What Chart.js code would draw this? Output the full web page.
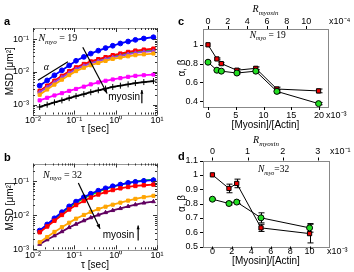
<!DOCTYPE html>
<html>
<head>
<meta charset="utf-8">
<script src="https://cdn.jsdelivr.net/npm/chart.js@4.4.1/dist/chart.umd.min.js"></script>
<style>
  body { margin: 0; background: #fff; }
  .panel { position: absolute; }
</style>
</head>
<body>
<canvas id="chartA" class="panel" width="177" height="136" style="left:0;top:0"></canvas>
<canvas id="chartB" class="panel" width="177" height="136" style="left:0;top:136px"></canvas>
<canvas id="chartC" class="panel" width="177" height="136" style="left:177px;top:0"></canvas>
<canvas id="chartD" class="panel" width="177" height="136" style="left:177px;top:136px"></canvas>
<script>
// ---------------- data ----------------
// lag times (sec) shared by panels a and b
const tau = [0.0145, 0.022, 0.033, 0.05, 0.075, 0.11, 0.17, 0.25, 0.38, 0.57, 0.85, 1.3, 2, 3, 4.8, 8.2];

// panel a, N_myo = 19  (MSD in um^2)
const blueA    = [0.0038, 0.0055, 0.0079, 0.0112, 0.0158, 0.0219, 0.0288, 0.0363, 0.0447, 0.0537, 0.0631, 0.0741, 0.0851, 0.0955, 0.105, 0.115];
const redA     = [0.00263, 0.0038, 0.00537, 0.00759, 0.0105, 0.0138, 0.0174, 0.0209, 0.0245, 0.0282, 0.0324, 0.0363, 0.0407, 0.0447, 0.0479, 0.0513];
const greenA   = [0.0025, 0.0036, 0.0051, 0.0072, 0.0099, 0.0130, 0.0163, 0.0195, 0.0228, 0.0262, 0.0300, 0.0335, 0.0372, 0.0408, 0.0437, 0.0466];
const purpleA  = [0.0024, 0.0034, 0.0048, 0.0068, 0.0093, 0.0122, 0.0153, 0.0183, 0.0213, 0.0245, 0.0280, 0.0312, 0.0347, 0.0380, 0.0408, 0.0435];
const orangeA  = [0.0020, 0.0029, 0.0041, 0.0058, 0.0080, 0.0106, 0.0134, 0.0160, 0.0188, 0.0217, 0.0250, 0.0275, 0.0300, 0.0325, 0.0345, 0.0365];
const magentaA = [0.00135, 0.00162, 0.00191, 0.00224, 0.00263, 0.00302, 0.00355, 0.00417, 0.00479, 0.00537, 0.00589, 0.00646, 0.00708, 0.00759, 0.00794, 0.00832];
const blackA   = [0.00085, 0.00100, 0.00117, 0.00135, 0.00158, 0.00182, 0.00209, 0.00240, 0.00275, 0.00309, 0.00347, 0.00380, 0.00417, 0.00457, 0.00490, 0.00525];

// panel b, N_myo = 32
const blueB    = [0.00355, 0.00537, 0.00813, 0.0123, 0.0182, 0.0251, 0.0339, 0.0427, 0.0525, 0.0617, 0.0708, 0.0794, 0.0891, 0.0955, 0.102, 0.107];
const greenB   = [0.00331, 0.00501, 0.00759, 0.0115, 0.0170, 0.0234, 0.0316, 0.0398, 0.0490, 0.0589, 0.0692, 0.0794, 0.0891, 0.0977, 0.105, 0.111];
const redB     = [0.00316, 0.00468, 0.00692, 0.0102, 0.0148, 0.0200, 0.0263, 0.0331, 0.0407, 0.0479, 0.0550, 0.0617, 0.0676, 0.0724, 0.0759, 0.0794];
const orangeB  = [0.00162, 0.00229, 0.00324, 0.00447, 0.00603, 0.00794, 0.0102, 0.0126, 0.0151, 0.0178, 0.0204, 0.0234, 0.0269, 0.0302, 0.0339, 0.0372];
const purpleB  = [0.00141, 0.00191, 0.00251, 0.00331, 0.00437, 0.00550, 0.00692, 0.00851, 0.0102, 0.0120, 0.0138, 0.0158, 0.0182, 0.0204, 0.0229, 0.0251];

// panel c  ([Myosin]/[Actin] in 1e-3)
const ratioC    = [0, 1.6, 2.4, 5.2, 8.6, 12.4, 19.9];
const alphaC    = [1.0, 0.85, 0.80, 0.73, 0.75, 0.53, 0.51];
const betaC     = [0.815, 0.73, 0.72, 0.70, 0.72, 0.505, 0.375];
const alphaErrC = [0, 0.01, 0.01, 0.015, 0.015, 0.02, 0.02];
const betaErrC  = [0, 0.01, 0.01, 0.01, 0.015, 0.02, 0.012];

// panel d
const ratioD    = [0, 1.7, 2.5, 5, 10];
const alphaD    = [1.0, 0.905, 0.94, 0.63, 0.59];
const betaD     = [0.83, 0.80, 0.81, 0.70, 0.63];
const alphaErrD = [0, 0.03, 0.03, 0.025, 0.065];
const betaErrD  = [0.005, 0.01, 0.01, 0.035, 0.03];

// tick labels
const tauTicks   = [0.01, 0.1, 1, 10];
const msdTicks   = [0.001, 0.01, 0.1];
const ratioTicksC = [0, 5, 10, 15, 20];
const rTicksC     = [0, 2, 4, 6, 8, 10];
const expTicksC   = [0.4, 0.6, 0.8, 1];
const ratioTicksD = [0, 2, 4, 6, 8, 10];
const rTicksD     = [0, 1, 2, 3];
const expTicksD   = [0.5, 0.6, 0.7, 0.8, 0.9, 1, 1.1];
//---------------------------------------

const SANS = 'Liberation Sans, Arial, Helvetica, sans-serif';
const SERIF = 'Liberation Serif, Times New Roman, serif';
const fontTick = { family: SANS, size: 9, lineHeight: 1 };
const fontTitle = { family: SANS, size: 10, lineHeight: 1.2 };
const noGrid = { display: false, drawTicks: false };

const sup = s => String(s).replace(/[-0-9]/g, c => '⁻⁰¹²³⁴⁵⁶⁷⁸⁹'['-0123456789'.indexOf(c)]);
const powLabel = v => '10' + sup(Math.round(Math.log10(v)));
const fixTicks = arr => s => { s.ticks = arr.map(v => ({ value: v })); };

// all k*10^n between min and max (for the log axis tick marks)
function logMarks(min, max) {
    const out = [];
    for (let e = Math.floor(Math.log10(min)); e <= Math.ceil(Math.log10(max)); e++) {
        for (let k = 1; k < 10; k++) {
            const v = k * Math.pow(10, e);
            if (v >= min * 0.999 && v <= max * 1.001) out.push({ v, major: k === 1 });
        }
    }
    return out;
}
const linMarks = arr => arr.map(v => ({ v, major: true }));

// frame + tick marks
function frameTicks(spec) {
    return {
        id: 'frameTicks',
        afterDatasetsDraw(chart) {
            const { ctx, chartArea: a } = chart;
            ctx.save();
            ctx.lineWidth = 1;
            ctx.strokeStyle = spec.frame;
            ctx.strokeRect(Math.round(a.left) + 0.5, Math.round(a.top) + 0.5,
                Math.round(a.right - a.left), Math.round(a.bottom - a.top));
            ctx.strokeStyle = spec.tick;
            spec.marks.forEach(m => {
                const s = chart.scales[m.scale];
                m.values.forEach(t => {
                    const len = t.major ? spec.major : spec.minor;
                    const d = m.out ? -len : len;
                    const p = Math.round(s.getPixelForValue(t.v)) + 0.5;
                    ctx.beginPath();
                    m.edges.forEach(edge => {
                        if (edge === 'bottom') { ctx.moveTo(p, a.bottom); ctx.lineTo(p, a.bottom - d); }
                        if (edge === 'top') { ctx.moveTo(p, a.top); ctx.lineTo(p, a.top + d); }
                        if (edge === 'left') { ctx.moveTo(a.left, p); ctx.lineTo(a.left + d, p); }
                        if (edge === 'right') { ctx.moveTo(a.right, p); ctx.lineTo(a.right - d, p); }
                    });
                    ctx.stroke();
                });
            });
            ctx.restore();
        }
    };
}

// vertical error bars for datasets with an `errors` array
const errorBars = {
    id: 'errorBars',
    beforeDatasetsDraw(chart) {
        const { ctx, scales: { x, y } } = chart;
        ctx.save();
        ctx.strokeStyle = '#000';
        ctx.lineWidth = 1;
        chart.data.datasets.forEach(ds => {
            if (!ds.errors) return;
            ds.data.forEach((p, i) => {
                const e = ds.errors[i];
                if (!e) return;
                const px = Math.round(x.getPixelForValue(p.x)) + 0.5;
                const y1 = y.getPixelForValue(p.y - e), y2 = y.getPixelForValue(p.y + e);
                ctx.beginPath();
                ctx.moveTo(px, y1); ctx.lineTo(px, y2);
                ctx.moveTo(px - 3, y1); ctx.lineTo(px + 3, y1);
                ctx.moveTo(px - 3, y2); ctx.lineTo(px + 3, y2);
                ctx.stroke();
            });
        });
        ctx.restore();
    }
};

// small drawing helpers for the annotations
const P = (chart, x, y, xid = 'x') => [chart.scales[xid].getPixelForValue(x), chart.scales.y.getPixelForValue(y)];

function arrow(ctx, x1, y1, x2, y2, head) {
    ctx.beginPath(); ctx.moveTo(x1, y1); ctx.lineTo(x2, y2); ctx.stroke();
    if (!head) return;
    const ang = Math.atan2(y2 - y1, x2 - x1);
    ctx.beginPath();
    ctx.moveTo(x2, y2);
    ctx.lineTo(x2 - head * Math.cos(ang - 0.4), y2 - head * Math.sin(ang - 0.4));
    ctx.lineTo(x2 - head * Math.cos(ang + 0.4), y2 - head * Math.sin(ang + 0.4));
    ctx.closePath(); ctx.fill();
}

// italic symbol + subscript + rest, e.g. N_myo = 19
function subLabel(ctx, main, sub, rest, x, y, size, align) {
    ctx.textBaseline = 'alphabetic';
    ctx.textAlign = 'left';
    const f1 = 'italic ' + size + 'px ' + SERIF;
    const f2 = 'italic ' + Math.round(size * 0.65) + 'px ' + SERIF;
    const f3 = size + 'px ' + SERIF;
    ctx.font = f1; const w1 = ctx.measureText(main).width;
    ctx.font = f2; const w2 = ctx.measureText(sub).width;
    ctx.font = f3; const w3 = ctx.measureText(rest).width;
    let x0 = align === 'center' ? x - (w1 + w2 + w3) / 2 : x;
    const base = y + size * 0.33;
    ctx.font = f1; ctx.fillText(main, x0, base);
    ctx.font = f2; ctx.fillText(sub, x0 + w1, base + size * 0.25);
    ctx.font = f3; ctx.fillText(rest, x0 + w1 + w2, base);
}

function letter(ctx, t, x, y) {
    ctx.font = 'bold 11px ' + SANS;
    ctx.textAlign = 'left'; ctx.textBaseline = 'middle';
    ctx.fillStyle = '#000';
    ctx.fillText(t, x, y);
}

function msdSet(values, color, style, radius) {
    return {
        data: tau.map((t, i) => ({ x: t, y: values[i] })),
        borderColor: color, backgroundColor: color,
        pointStyle: style, pointRadius: radius, pointBorderWidth: 1,
        borderWidth: 1.8
    };
}

function expSet(xs, ys, errs, fill, style) {
    return {
        data: xs.map((x, i) => ({ x, y: ys[i] })),
        errors: errs,
        borderColor: '#000', borderWidth: 1,
        pointStyle: style, pointRadius: 3, pointBorderWidth: 1,
        pointBackgroundColor: fill, pointBorderColor: '#000'
    };
}

function msdOptions(ymin, ymax, top, xH) {
    return {
        responsive: false, animation: false,
        layout: { padding: { top: top, right: 20, left: 0, bottom: 0 } },
        plugins: { legend: { display: false }, tooltip: { enabled: false } },
        scales: {
            x: {
                type: 'logarithmic', min: 0.01, max: 10,
                afterBuildTicks: fixTicks(tauTicks),
                afterFit: s => { s.height = xH; },
                grid: noGrid, border: { display: false },
                ticks: { font: fontTick, color: '#000', padding: 2, maxRotation: 0, autoSkip: false, callback: v => powLabel(v) },
                title: { display: true, text: 'τ [sec]', font: fontTitle, color: '#000', padding: { top: 0, bottom: 1 } }
            },
            y: {
                type: 'logarithmic', min: ymin, max: ymax,
                afterBuildTicks: fixTicks(msdTicks),
                afterFit: s => { s.width = 33; },
                grid: noGrid, border: { display: false },
                ticks: { font: fontTick, color: '#000', padding: 4, autoSkip: false, callback: v => powLabel(v) },
                title: { display: true, text: 'MSD [μm²]', font: fontTitle, color: '#000', padding: { top: 4, bottom: 0 } }
            }
        }
    };
}

function msdMarks(ymin, ymax) {
    return frameTicks({
        frame: '#999', tick: '#333', major: 4, minor: 2,
        marks: [
            { scale: 'x', values: logMarks(0.01, 10), edges: ['bottom', 'top'] },
            { scale: 'y', values: logMarks(ymin, ymax), edges: ['left', 'right'] }
        ]
    });
}

//               Painel a            //
new Chart(document.getElementById('chartA'), {
    type: 'line',
    data: {
        datasets: [
            msdSet(orangeA, '#ffa500', 'rect', 2.2),
            msdSet(purpleA, '#9a40e0', 'triangle', 2.2),
            msdSet(redA, '#ff0000', 'rect', 2.4),
            msdSet(greenA, '#00d000', 'circle', 1.6),
            msdSet(magentaA, '#ff00ff', 'rect', 2.2),
            msdSet(blackA, '#000000', 'cross', 3),
            msdSet(blueA, '#0000ff', 'circle', 2.4)
        ]
    },
    options: msdOptions(5e-4, 0.22, 28, 21.5),
    plugins: [msdMarks(5e-4, 0.22), {
        id: 'notesA',
        afterDraw(chart) {
            const ctx = chart.ctx;
            ctx.save();
            ctx.fillStyle = '#000'; ctx.strokeStyle = '#000'; ctx.lineWidth = 1.2;
            letter(ctx, 'a', 4, 22);
            let p = P(chart, 0.0135, 0.11);
            subLabel(ctx, 'N', 'myo', ' = 19', p[0], p[1], 10);
            // slope mark
            const s1 = P(chart, 0.0132, 0.0056), s2 = P(chart, 0.07, 0.0204);
            arrow(ctx, s1[0], s1[1], s2[0], s2[1], 0);
            p = P(chart, 0.021, 0.0135);
            ctx.font = 'italic 10px ' + SERIF; ctx.textAlign = 'center'; ctx.textBaseline = 'middle';
            ctx.fillText('α', p[0], p[1]);
            // myosin arrows
            const a1 = P(chart, 0.16, 0.057), a2 = P(chart, 0.62, 0.0022);
            arrow(ctx, a1[0], a1[1], a2[0], a2[1], 5);
            p = P(chart, 1.6, 0.0017);
            ctx.font = '10px ' + SANS; ctx.fillText('myosin', p[0], p[1]);
            const v1 = P(chart, 4.3, 0.0011), v2 = P(chart, 4.3, 0.0028);
            arrow(ctx, v1[0], v1[1], v2[0], v2[1], 4);
            ctx.restore();
        }
    }]
});
//------------------------------------//

//               Painel b            //
new Chart(document.getElementById('chartB'), {
    type: 'line',
    data: {
        datasets: [
            msdSet(redB, '#ff0000', 'rect', 2.4),
            msdSet(blueB, '#0000ff', 'circle', 2.4),
            msdSet(greenB, '#00e000', 'triangle', 2.4),
            msdSet(orangeB, '#ffa500', 'rect', 2.2),
            msdSet(purpleB, '#600060', 'triangle', 2.2)
        ]
    },
    options: msdOptions(1e-3, 0.33, 27.5, 22.7),
    plugins: [msdMarks(1e-3, 0.33), {
        id: 'notesB',
        afterDraw(chart) {
            const ctx = chart.ctx;
            ctx.save();
            ctx.fillStyle = '#000'; ctx.strokeStyle = '#000'; ctx.lineWidth = 1.2;
            letter(ctx, 'b', 4, 22);
            let p = P(chart, 0.0175, 0.156);
            subLabel(ctx, 'N', 'myo', ' = 32', p[0], p[1], 10);
            const a1 = P(chart, 0.125, 0.088), a2 = P(chart, 0.42, 0.0040);
            arrow(ctx, a1[0], a1[1], a2[0], a2[1], 5);
            p = P(chart, 1.17, 0.0025);
            ctx.font = '10px ' + SANS; ctx.textAlign = 'center'; ctx.textBaseline = 'middle';
            ctx.fillText('myosin', p[0], p[1]);
            const v1 = P(chart, 3.5, 0.0018), v2 = P(chart, 3.5, 0.005);
            arrow(ctx, v1[0], v1[1], v2[0], v2[1], 4);
            ctx.restore();
        }
    }]
});
//------------------------------------//

function expOptions(cfg) {
    return {
        responsive: false, animation: false,
        layout: { padding: { top: 0, right: cfg.right, left: 0, bottom: 0 } },
        plugins: { legend: { display: false }, tooltip: { enabled: false } },
        scales: {
            x: {
                type: 'linear', min: cfg.xmin, max: cfg.xmax,
                afterBuildTicks: fixTicks(cfg.xticks),
                afterFit: s => { s.height = cfg.bottom; },
                grid: noGrid, border: { display: false },
                ticks: { font: fontTick, color: '#000', padding: cfg.xpad, maxRotation: 0, autoSkip: false },
                title: { display: true, text: '[Myosin]/[Actin]', font: fontTitle, color: '#000', padding: { top: 0, bottom: 5 } }
            },
            x2: {
                type: 'linear', position: 'top', min: cfg.rmin, max: cfg.rmax,
                afterBuildTicks: fixTicks(cfg.rticks),
                afterFit: s => { s.height = cfg.top; },
                grid: noGrid, border: { display: false },
                ticks: { font: fontTick, color: '#000', padding: cfg.rpad, maxRotation: 0, autoSkip: false }
            },
            y: {
                type: 'linear', min: cfg.ymin, max: cfg.ymax,
                afterBuildTicks: fixTicks(cfg.yticks),
                afterFit: s => { s.width = 26; },
                grid: noGrid, border: { display: false },
                ticks: { font: fontTick, color: '#000', padding: 5, autoSkip: false, callback: v => String(+v.toFixed(2)) },
                title: { display: true, text: 'α, β', font: { family: SANS, size: 10, lineHeight: 1 }, color: '#000', padding: 0 }
            }
        }
    };
}

function expMarks(cfg) {
    return frameTicks({
        frame: '#888', tick: '#000', major: 3, minor: 2,
        marks: [
            { scale: 'x', values: linMarks(cfg.xticks), edges: ['bottom'], out: true },
            { scale: 'x2', values: linMarks(cfg.rticks), edges: ['top'], out: true },
            { scale: 'y', values: linMarks(cfg.yticks), edges: ['left'], out: true }
        ]
    });
}

function expNotes(id, letterText, nText, nx, ny, bottomExp, topExp, titleY, letterY) {
    return {
        id: id,
        afterDraw(chart) {
            const ctx = chart.ctx, a = chart.chartArea;
            ctx.save();
            ctx.fillStyle = '#000';
            letter(ctx, letterText, 1, letterY);
            const p = P(chart, nx, ny);
            subLabel(ctx, 'N', 'myo', nText, p[0], p[1], 9.5, 'center');
            // top axis title
            subLabel(ctx, 'R', 'myosin', '', (a.left + a.right) / 2, titleY, 10, 'center');
            // exponent notes next to the last tick labels
            ctx.font = '9px ' + SANS; ctx.textAlign = 'left'; ctx.textBaseline = 'middle';
            ctx.fillText('x10' + sup(bottomExp), a.right - 2, a.bottom + chart.options.scales.x.ticks.padding + 4.5);
            ctx.fillText('x10' + sup(topExp), a.right + 1, a.top - chart.options.scales.x2.ticks.padding - 4.5);
            ctx.restore();
        }
    };
}

//               Painel c            //
const cfgC = {
    xmin: -0.9, xmax: 21.6, rmin: -0.508, rmax: 12.2, ymin: 0.339, ymax: 1.168,
    xticks: ratioTicksC, rticks: rTicksC, yticks: expTicksC,
    right: 26, top: 29, bottom: 29, xpad: 4, rpad: 3
};
new Chart(document.getElementById('chartC'), {
    type: 'line',
    data: {
        datasets: [
            expSet(ratioC, betaC, betaErrC, '#22dd22', 'circle'),
            expSet(ratioC, alphaC, alphaErrC, '#ee0000', 'rect')
        ]
    },
    options: expOptions(cfgC),
    plugins: [errorBars, expMarks(cfgC), expNotes('notesC', 'c', ' = 19', 10.75, 1.107, -3, -4, 9, 22)]
});
//------------------------------------//

//               Painel d            //
const cfgD = {
    xmin: -0.97, xmax: 12.0, rmin: -0.268, rmax: 3.32, ymin: 0.5, ymax: 1.1,
    xticks: ratioTicksD, rticks: rTicksD, yticks: expTicksD,
    right: 25, top: 24.5, bottom: 25.5, xpad: 1, rpad: 4
};
new Chart(document.getElementById('chartD'), {
    type: 'line',
    data: {
        datasets: [
            expSet(ratioD, betaD, betaErrD, '#22dd22', 'circle'),
            expSet(ratioD, alphaD, alphaErrD, '#ee0000', 'rect')
        ]
    },
    options: expOptions(cfgD),
    plugins: [errorBars, expMarks(cfgD), expNotes('notesD', 'd', '=32', 6.3, 1.04, -3, -1, 4, 21)]
});
//------------------------------------//
</script>
</body>
</html>
